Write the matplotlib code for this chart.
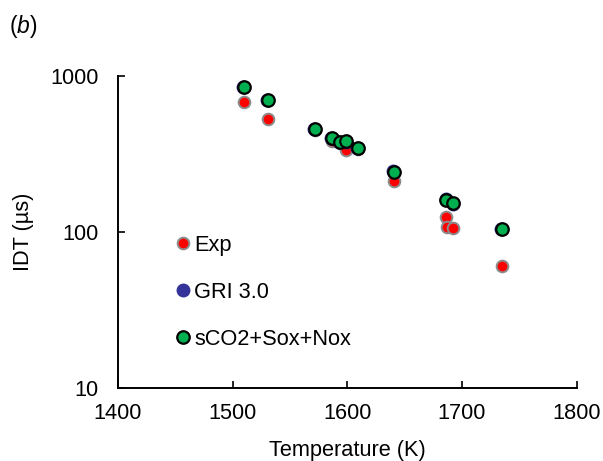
import numpy as np
import matplotlib
matplotlib.use('Agg')
import matplotlib.pyplot as plt

plt.rcParams['font.family'] = ['Liberation Sans', 'DejaVu Sans']
plt.rcParams['mathtext.fontset'] = 'custom'
plt.rcParams['mathtext.it'] = 'Liberation Sans:italic'
plt.rcParams['mathtext.rm'] = 'Liberation Sans'

# Donnees
exp_T = [1510, 1531, 1572, 1587, 1594, 1599, 1609, 1641, 1686, 1687, 1692, 1735]
exp_idt = [681, 532, 450, 385, 370, 336, 338, 213, 124, 107, 106, 60.5]

gri_T = [1509, 1530, 1571, 1586, 1593, 1599, 1608, 1640, 1686, 1692, 1734]
gri_idt = [850, 705, 460, 398, 380, 380, 345, 245, 162, 152, 104]

sco2_T = [1510, 1531, 1572, 1587, 1594, 1599, 1609, 1641, 1686, 1692, 1735]
sco2_idt = [846, 702, 459, 399, 379, 381, 344, 244, 160, 153, 104.5]

fs = 15.7

fig = plt.figure(figsize=(6.03, 4.61), dpi=100)
ax = fig.add_axes([0.1957, 0.1584, 0.7607, 0.6767])

ax.plot(exp_T, exp_idt, 'o', ms=8.4, mfc='#ff0000', mec='#8c8c8c', mew=1.4,
        label='Exp', zorder=3)
ax.plot(gri_T, gri_idt, 'o', ms=9.0, mfc='#333399', mec='#333399', mew=1.0,
        label='GRI 3.0', zorder=4)
ax.plot(sco2_T, sco2_idt, 'o', ms=9.0, mfc='#00b050', mec='#000000', mew=1.6,
        label='sCO2+Sox+Nox', zorder=5)

ax.set_yscale('log')
ax.set_xlim(1400, 1800)
ax.set_ylim(10, 1000)
ax.set_xticks([1400, 1500, 1600, 1700, 1800])
ax.set_yticks([10, 100, 1000])
ax.set_yticklabels(['10', '100', '1000'])
ax.minorticks_off()
ax.tick_params(direction='in', length=5, width=1.2, labelsize=fs)
ax.tick_params(axis='x', pad=11)
ax.tick_params(axis='y', pad=14)

for s in ['top', 'right']:
    ax.spines[s].set_visible(False)
for s in ['left', 'bottom']:
    ax.spines[s].set_linewidth(1.4)

ax.set_xlabel('Temperature (K)', fontsize=fs, labelpad=11)
ax.set_ylabel('IDT (µs)', fontsize=fs, labelpad=12)

ax.legend(loc='upper left', bbox_to_anchor=(0.13, 0.49), frameon=False,
          fontsize=fs, handlelength=0.5, handletextpad=0.25, labelspacing=1.18,
          borderaxespad=0, borderpad=0)

fig.text(0.015, 0.943, r'($\it{b}$)', fontsize=16.5, va='center', ha='left')

fig.savefig('out.png', dpi=100)
